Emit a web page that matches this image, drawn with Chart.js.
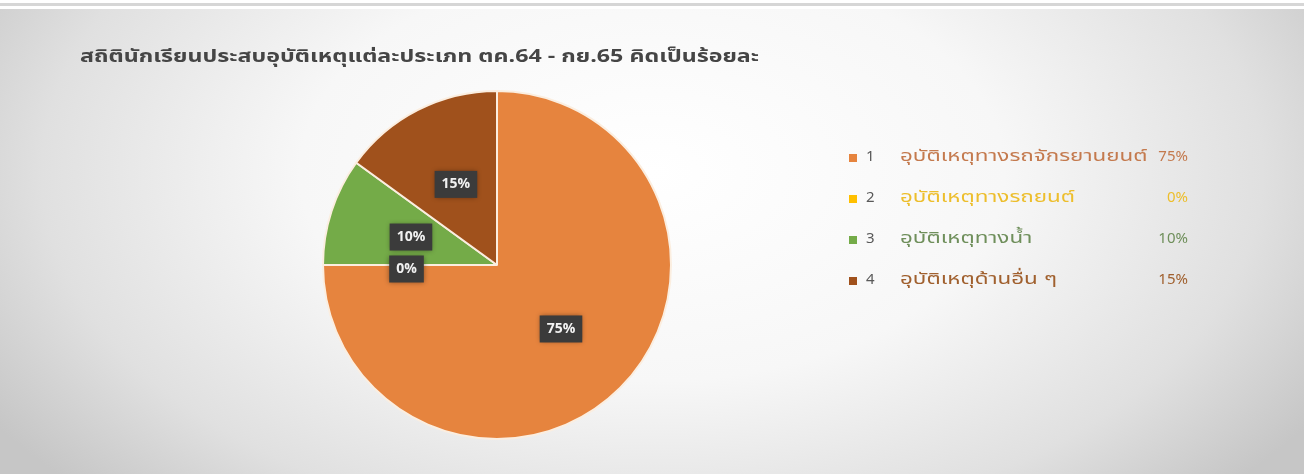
<!DOCTYPE html>
<html>
<head>
<meta charset="utf-8">
<script src="https://cdn.jsdelivr.net/npm/chart.js@4"></script>
<style>
  html, body { margin: 0; padding: 0; background: #fff; }
  #wrap { position: relative; width: 1304px; height: 474px; overflow: hidden; }
  #topline { position: absolute; left: 0; top: 3px; width: 1304px; height: 3px; background: #d6d6d6; }
  #panel {
    position: absolute; left: 0; top: 9px; width: 1304px; height: 465px;
    background: radial-gradient(ellipse 60% 100% at 50% 35%, #ffffff 0%, #f7f7f7 45%, #e0e0e0 78%, #c6c6c6 100%);
  }
  canvas { position: absolute; left: 0; top: 0; }
</style>
</head>
<body>
<div id="wrap">
  <div id="topline"></div>
  <div id="panel"></div>
  <canvas id="myChart" width="1304" height="474"></canvas>
</div>
<script>
// data
const chartTitle = 'สถิตินักเรียนประสบอุบัติเหตุแต่ละประเภท ตค.64 - กย.65 คิดเป็นร้อยละ';
const categoryNums = ['1', '2', '3', '4'];
const categoryNames = ['อุบัติเหตุทางรถจักรยานยนต์', 'อุบัติเหตุทางรถยนต์', 'อุบัติเหตุทางน้ำ', 'อุบัติเหตุด้านอื่น ๆ'];
const percentValues = [75, 0, 10, 15];

const sliceColors = ['#E6843E', '#FFC000', '#74AB48', '#A0511C'];
const legendTextColors = ['#C47A4E', '#EDBE2C', '#6F8F5B', '#A0602E'];
const thaiFont = '"Noto Sans Thai", "Noto Sans", "DejaVu Sans", sans-serif';

// draws text stretched sideways, the reference font is much wider
function wideText(ctx, txt, x, y, sx) {
    ctx.save();
    ctx.translate(x, y);
    ctx.scale(sx, 1);
    ctx.fillText(txt, 0, 0);
    ctx.restore();
}

// title, legend and data label boxes
const decorPlugin = {
    id: 'decor',
    afterDatasetsDraw(chart) {
        const ctx = chart.ctx;
        const meta = chart.getDatasetMeta(0);

        // data labels
        meta.data.forEach((arc, i) => {
            const mid = (arc.startAngle + arc.endAngle) / 2;
            const r = arc.outerRadius * 0.52;
            const x = arc.x + Math.cos(mid) * r;
            const y = arc.y + Math.sin(mid) * r + (percentValues[i] === 0 ? 4 : 0);
            const txt = percentValues[i] + '%';
            ctx.save();
            ctx.font = 'bold 14px ' + thaiFont;
            const w = ctx.measureText(txt).width + 14;
            const h = 27;
            ctx.shadowColor = 'rgba(0,0,0,0.4)';
            ctx.shadowBlur = 5;
            ctx.fillStyle = '#3b3b3b';
            ctx.fillRect(x - w / 2, y - h / 2, w, h);
            ctx.shadowColor = 'transparent';
            ctx.fillStyle = '#f2f2f2';
            ctx.textAlign = 'center';
            ctx.textBaseline = 'middle';
            ctx.fillText(txt, x, y + 1);
            ctx.restore();
        });

        // title
        ctx.save();
        ctx.font = 'bold 18px ' + thaiFont;
        ctx.fillStyle = '#454545';
        ctx.textBaseline = 'middle';
        wideText(ctx, chartTitle, 80, 58, 1.29);
        ctx.restore();

        // legend
        ctx.save();
        ctx.textBaseline = 'middle';
        categoryNames.forEach((name, i) => {
            const y = 158 + i * 41;
            ctx.fillStyle = sliceColors[i];
            ctx.fillRect(849, y - 4, 8, 8);
            ctx.font = '15px ' + thaiFont;
            ctx.fillStyle = '#595959';
            ctx.textAlign = 'left';
            ctx.fillText(categoryNums[i], 866, y);
            ctx.font = '16px ' + thaiFont;
            ctx.fillStyle = legendTextColors[i];
            wideText(ctx, name, 900, y, 1.4);
            ctx.font = '15px ' + thaiFont;
            ctx.textAlign = 'right';
            ctx.fillText(percentValues[i] + '%', 1188, y);
        });
        ctx.restore();
    }
};

const ctx = document.getElementById('myChart').getContext('2d');
const myChart = new Chart(ctx, {
    type: 'pie',
    data: {
        labels: categoryNames,
        datasets: [{
            data: percentValues,
            backgroundColor: sliceColors,
            borderColor: '#fbeee0',
            borderWidth: 2,
        }],
    },
    options: {
        responsive: false,
        animation: false,
        layout: {
            padding: { left: 322, right: 632, top: 90, bottom: 34 },
        },
        plugins: {
            legend: { display: false },
            tooltip: { enabled: false },
            title: { display: false },
        },
    },
    plugins: [decorPlugin],
});
</script>
</body>
</html>
